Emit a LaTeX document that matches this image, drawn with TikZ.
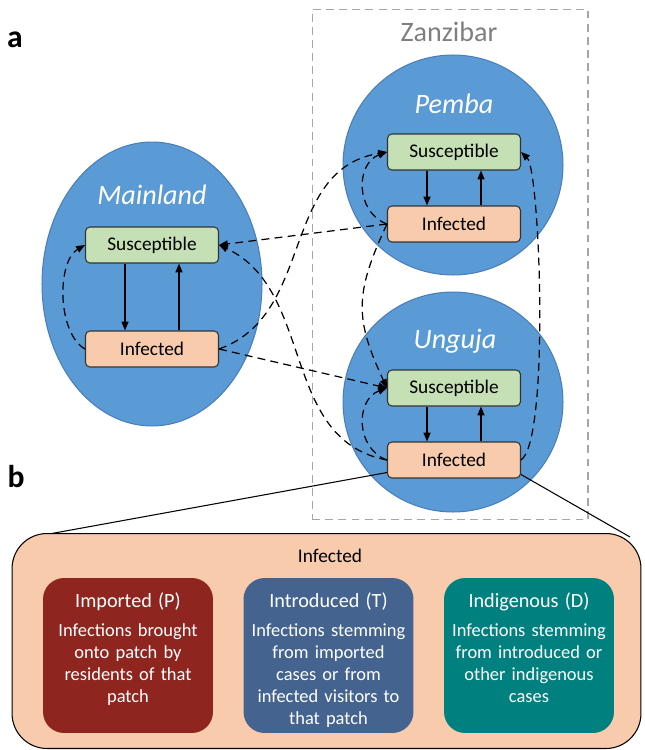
\documentclass[tikz,border=0pt]{standalone}
\usepackage{fontspec}
\setmainfont{Carlito}
\usetikzlibrary{arrows.meta,positioning,shapes.geometric,calc}
\definecolor{patchBlue}{HTML}{5B9BD5}
\definecolor{patchEdge}{HTML}{4A7EBB}
\definecolor{susGreen}{HTML}{C5E0B4}
\definecolor{infPeach}{HTML}{F8CBAD}
\definecolor{impRed}{HTML}{8E251F}
\definecolor{intBlue}{HTML}{44648F}
\definecolor{indTeal}{HTML}{00807F}
\definecolor{zanGray}{HTML}{7F7F7F}
\tikzset{
  patch/.style={fill=patchBlue, draw=patchEdge, line width=0.6pt},
  patchname/.style={font=\fontsize{16}{18}\selectfont\itshape, text=white},
  state/.style={draw=black!80, line width=0.6pt, rounded corners=2.5pt,
    minimum width=2.66cm, minimum height=0.72cm, font=\fontsize{11}{13}\selectfont},
  susc/.style={state, fill=susGreen},
  infc/.style={state, fill=infPeach},
  flow/.style={-{Triangle[length=5pt,width=4pt]}, line width=0.7pt},
  move/.style={flow, dash pattern=on 4.5pt off 3pt},
  catbox/.style={rounded corners=12pt, minimum width=3.4cm, minimum height=3.1cm},
  cattext/.style={text=white, text width=3.2cm, align=center, inner sep=0pt,
    font=\fontsize{10.5}{12.5}\selectfont},
  panel/.style={font=\bfseries\fontsize{18}{20}\selectfont}
}
\begin{document}
\begin{tikzpicture}[x=0.02cm, y=-0.02cm]
  \useasboundingbox (0,0) rectangle (645,750);
  % panel letters
  \node[panel] (la) at (15,40) {a};
  \node[panel] (lb) at (16,477) {b};

  % Zanzibar frame
  \node[draw=black!35, line width=0.6pt, dash pattern=on 4.5pt off 3pt,
    minimum width=5.52cm, minimum height=10.22cm] (zanz) at (450,264.5) {};
  \node[font=\fontsize{16}{18}\selectfont, text=zanGray] (zanzl) at (449,32) {Zanzibar};

  % patches
  \node[patch, ellipse, minimum width=4.4cm, minimum height=5.68cm] (main) at (152,284) {};
  \node[patch, circle, minimum size=4.4cm] (pemba) at (453,165) {};
  \node[patch, circle, minimum size=4.4cm] (ung) at (453,402) {};
  \node[patchname] (mainl) at (152,195) {Mainland};
  \node[patchname] (pembal) at (454,104) {Pemba};
  \node[patchname] (ungl) at (455,341) {Unguja};

  % states
  \node[susc] (mS) at (152,245) {Susceptible};
  \node[infc] (mI) at (152,349) {Infected};
  \node[susc] (pS) at (454,152) {Susceptible};
  \node[infc] (pI) at (454,224) {Infected};
  \node[susc] (uS) at (454,388) {Susceptible};
  \node[infc] (uI) at (454,460) {Infected};

  \foreach \p in {m,p,u} {
    \draw[flow] ([xshift=-0.54cm]\p S.south) -- ([xshift=-0.54cm]\p I.north);
    \draw[flow] ([xshift=0.54cm]\p I.north) -- ([xshift=0.54cm]\p S.south);
  }

  % movement within a patch
  \draw[move] (mI.west) to[out=150,in=210,looseness=0.8] (mS.west);
  \draw[move] (pI.west) to[out=160,in=200,looseness=1.2] (pS.west);
  \draw[move] (uI.west) to[out=160,in=200,looseness=1.2] (uS.west);
  % movement between patches
  \draw[move] (pI.west) -- (mS.east);
  \draw[move] (mI.east) -- (uS.west);
  \draw[move] (mI.east) .. controls (315,315) and (280,170) .. (pS.west);
  \draw[move] (uI.west) .. controls (280,440) and (315,290) .. (mS.east);
  \draw[move] (pI.west) to[out=245,in=115,looseness=1.2] (uS.west);
  \draw[move] (uI.east) .. controls (550,440) and (540,170) .. (pS.east);

  % breakdown of infected
  \coordinate (zl) at (38,536);
  \coordinate (zr) at (630,537);
  \draw[line width=0.6pt] ([yshift=0.12cm]uI.south west) -- (zl);
  \draw[line width=0.6pt] ([yshift=0.08cm]uI.south east) -- (zr);
  \node[draw=black, fill=infPeach, line width=0.6pt, rounded corners=0.7cm,
    minimum width=12.58cm, minimum height=4.3cm] (inf) at (326.5,641) {};
  \node[font=\fontsize{11}{13}\selectfont] (infl) at (330,556) {Infected};

  \node[catbox, fill=impRed] (imp) at (128,655.5) {};
  \node[catbox, fill=intBlue] (intr) at (328.5,655.5) {};
  \node[catbox, fill=indTeal] (indg) at (529,655.5) {};
  \node[cattext, below=0.3cm of imp.north] (impt)
    {{\fontsize{11.5}{13}\selectfont Imported (P)}\\[4pt] Infections brought\\ onto patch by\\ residents of that\\ patch};
  \node[cattext, below=0.3cm of intr.north] (intrt)
    {{\fontsize{11.5}{13}\selectfont Introduced (T)}\\[4pt] Infections stemming\\ from imported\\ cases or from\\ infected visitors to\\ that patch};
  \node[cattext, below=0.3cm of indg.north] (indgt)
    {{\fontsize{11.5}{13}\selectfont Indigenous (D)}\\[4pt] Infections stemming\\ from introduced or\\ other indigenous\\ cases};
\end{tikzpicture}
\end{document}
